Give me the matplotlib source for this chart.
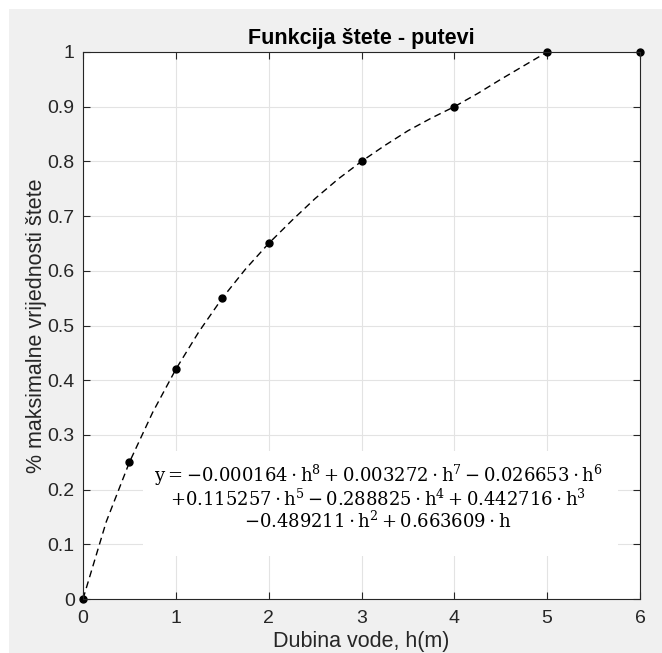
import matplotlib
matplotlib.use("Agg")
import matplotlib.pyplot as plt
from matplotlib.patches import Rectangle

# ---- data ----
depth_pts = [0, 0.5, 1, 1.5, 2, 3, 4, 5, 6]
damage_pts = [0, 0.25, 0.42, 0.55, 0.65, 0.80, 0.90, 1.0, 1.0]

# dashed fitted curve
curve_x = [0, 0.25, 0.5, 0.75, 1.0, 1.25, 1.5, 1.75, 2.0, 2.25, 2.5, 2.75,
           3.0, 3.25, 3.5, 3.75, 4.0, 4.25, 4.5, 4.75, 5.0, 6.0]
curve_y = [0, 0.141, 0.25, 0.341, 0.42, 0.489, 0.55, 0.603, 0.65, 0.692, 0.732, 0.768,
           0.80, 0.829, 0.856, 0.879, 0.90, 0.924, 0.950, 0.975, 1.0, 1.0]

xticks = [0, 1, 2, 3, 4, 5, 6]
yticks = [0, 0.1, 0.2, 0.3, 0.4, 0.5, 0.6, 0.7, 0.8, 0.9, 1.0]
ytick_labels = ["0", "0.1", "0.2", "0.3", "0.4", "0.5", "0.6", "0.7", "0.8", "0.9", "1"]

title = "Funkcija štete - putevi"
xlabel = "Dubina vode, h(m)"
ylabel = "% maksimalne vrijednosti štete"
equation = ("$\\mathrm{y} = -0.000164\\cdot\\mathrm{h}^{8} + 0.003272\\cdot\\mathrm{h}^{7} - 0.026653\\cdot\\mathrm{h}^{6}$\n"
            "$+0.115257\\cdot\\mathrm{h}^{5} - 0.288825\\cdot\\mathrm{h}^{4} + 0.442716\\cdot\\mathrm{h}^{3}$\n"
            "$-0.489211\\cdot\\mathrm{h}^{2} + 0.663609\\cdot\\mathrm{h}$")

# ---- style ----
plt.rcParams['font.family'] = ['Liberation Sans', 'DejaVu Sans']
plt.rcParams['mathtext.fontset'] = 'dejavuserif'

W, H = 662, 653
fig = plt.figure(figsize=(W / 100, H / 100), dpi=100, facecolor='white')
fig.patches.append(Rectangle((9 / W, 0), 1 - 9 / W, (H - 9) / H, transform=fig.transFigure,
                             facecolor='#f0f0f0', edgecolor='none', zorder=-10))

ax = fig.add_axes([83 / W, (H - 599) / H, (640 - 83) / W, (599 - 52) / H])
ax.set_facecolor('white')

ax.plot(curve_x, curve_y, color='black', lw=1.0, ls=(0, (5, 3.2)), zorder=3, clip_on=True)
ax.plot(depth_pts, damage_pts, 'o', color='black', ms=5, zorder=4, clip_on=False)

ax.set_xlim(0, 6)
ax.set_ylim(0, 1)
ax.set_xticks(xticks)
ax.set_yticks(yticks)
ax.set_yticklabels(ytick_labels)

ax.grid(True, color='#e3e3e3', lw=0.8)
ax.set_axisbelow(True)
for s in ax.spines.values():
    s.set_color('#262626')
    s.set_linewidth(0.8)
    s.set_zorder(5)
ax.tick_params(direction='in', length=5, width=0.8, color='#262626', labelcolor='#262626',
               labelsize=14, top=True, right=True)
ax.tick_params(axis='x', pad=8)
ax.tick_params(axis='y', pad=6)

ax.set_title(title, fontsize=15.5, fontweight='bold', color='black', pad=6)
ax.set_xlabel(xlabel, fontsize=15.5, color='#262626', labelpad=3)
ax.set_ylabel(ylabel, fontsize=15.5, color='#262626', labelpad=0)

# white background box of the equation annotation
ax.add_patch(Rectangle((0.646, 0.079), 5.76 - 0.646, 0.27 - 0.079, facecolor='white',
                       edgecolor='none', zorder=2))
ax.text(3.18, 0.186, equation, fontsize=13, ha='center', va='center', multialignment='center',
        color='black', zorder=6, linespacing=1.05)

fig.savefig('out.png', dpi=100, facecolor=fig.get_facecolor())
